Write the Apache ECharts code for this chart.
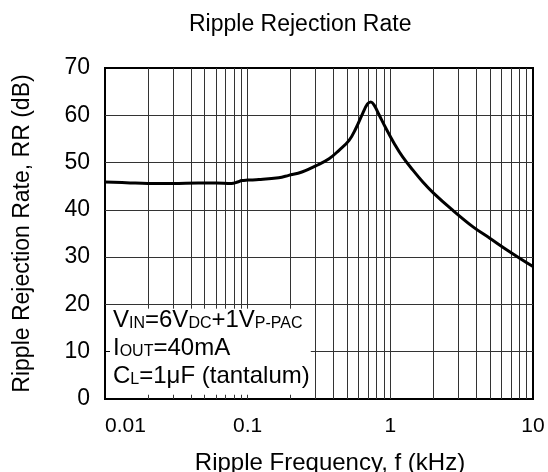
<!DOCTYPE html>
<html>
<head>
<meta charset="utf-8">
<script src="https://cdn.jsdelivr.net/npm/echarts@6/dist/echarts.min.js"></script>
<style>
  html, body { margin: 0; padding: 0; background: #fff; }
  #chart { width: 548px; height: 472px; }
</style>
</head>
<body>
<div id="chart"></div>
<script>
// ripple rejection vs frequency
const freqKHz = [0.01, 0.015, 0.02, 0.03, 0.045, 0.06, 0.077, 0.085, 0.091, 0.1, 0.12, 0.165, 0.194, 0.24, 0.3, 0.372, 0.437, 0.514, 0.573, 0.638, 0.692, 0.731, 0.772, 0.837, 0.933, 1.067, 1.22, 1.44, 1.69, 2.0, 2.67, 3.8, 4.98, 6.9, 10]
const rrDb = [45.9, 45.7, 45.6, 45.6, 45.7, 45.7, 45.6, 45.9, 46.2, 46.3, 46.4, 46.8, 47.3, 48.0, 49.3, 50.8, 52.6, 54.7, 57.2, 60.3, 62.4, 62.8, 62.1, 60.0, 57.2, 54.0, 51.2, 48.4, 45.9, 43.6, 40.2, 36.4, 34.0, 31.1, 28.0]

// log grid lines (borders at 0.01 and 10 come from the frame)
const gridFreqs = [0.02, 0.03, 0.04, 0.05, 0.06, 0.07, 0.08, 0.09, 0.1,
  0.2, 0.3, 0.4, 0.5, 0.6, 0.7, 0.8, 0.9, 1,
  2, 3, 4, 5, 6, 7, 8, 9]
const gridDb = [10, 20, 30, 40, 50, 60]

// condition box in the lower left corner (data units)
const boxFreqMax = 0.277
const boxDbMax = 20

const font = '"Liberation Sans", Arial, sans-serif'
const gridColor = '#333'

const gridLines = []
gridFreqs.forEach((f) => {
  const inBox = f < boxFreqMax
  gridLines.push([{ coord: [f, inBox ? boxDbMax - 0.9 : 0] }, { coord: [f, 70] }])
  if (inBox) gridLines.push([{ coord: [f, 0] }, { coord: [f, 0.9] }])
})
gridDb.forEach((v) => {
  gridLines.push([{ coord: [v < boxDbMax ? boxFreqMax : 0.01, v] }, { coord: [10, v] }])
})

const chart = echarts.init(document.getElementById('chart'))
chart.setOption({
  animation: false,
  title: {
    text: 'Ripple Rejection Rate',
    left: 184,
    top: 8,
    textStyle: { fontFamily: font, fontSize: 23, fontWeight: 'normal', color: '#000' }
  },
  grid: {
    left: 105, right: 15, top: 68, bottom: 73,
    outerBoundsMode: 'none',
    show: true, borderColor: '#000', borderWidth: 2
  },
  xAxis: {
    type: 'log',
    logBase: 10,
    min: 0.01,
    max: 10,
    name: 'Ripple Frequency, f (kHz)',
    nameLocation: 'middle',
    nameGap: 52,
    nameTextStyle: { fontFamily: font, fontSize: 24, color: '#000', padding: [0, 0, 0, 22] },
    axisLine: { lineStyle: { color: '#000', width: 2 } },
    axisTick: { show: false },
    splitLine: { show: false },
    axisLabel: {
      margin: 17,
      fontFamily: font,
      fontSize: 21,
      color: '#000',
      alignMinLabel: 'left',
      formatter: (v) => String(+Number(v).toPrecision(3))
    }
  },
  yAxis: {
    type: 'value',
    min: 0,
    max: 70,
    interval: 10,
    name: 'Ripple Rejection Rate, RR (dB)',
    nameLocation: 'middle',
    nameGap: 71,
    nameTextStyle: { fontFamily: font, fontSize: 23, color: '#000' },
    axisLine: { lineStyle: { color: '#000', width: 2 } },
    axisTick: { inside: true, length: 5, lineStyle: { color: '#000' } },
    splitLine: { show: false },
    axisLabel: { margin: 15, fontFamily: font, fontSize: 23, color: '#000' }
  },
  graphic: [
    {
      type: 'text',
      left: 113,
      top: 308,
      z: 10,
      style: {
        text: [
          '{m|V}{s|IN}{m|=6V}{s|DC}{m|+1V}{s|P-PAC}',
          '{m|I}{s|OUT}{m|=40mA}',
          '{m|C}{s|L}{m|=1μF (tantalum)}'
        ].join('\n'),
        fill: '#000',
        rich: {
          m: { fontFamily: font, fontSize: 24, lineHeight: 28, fill: '#000' },
          s: { fontFamily: font, fontSize: 16, lineHeight: 17, verticalAlign: 'bottom', padding: [0, 0, 2, 0], fill: '#000' }
        }
      }
    }
  ],
  series: [
    {
      name: 'grid',
      type: 'line',
      data: [],
      z: 1,
      silent: true,
      markLine: {
        silent: true,
        z: 1,
        symbol: ['none', 'none'],
        label: { show: false },
        emphasis: { disabled: true },
        lineStyle: { color: gridColor, width: 1, type: 'solid' },
        data: gridLines
      }
    },
    {
      name: 'RR',
      type: 'line',
      z: 5,
      smooth: 0.4,
      showSymbol: false,
      lineStyle: { color: '#000', width: 3 },
      data: freqKHz.map((f, i) => [f, rrDb[i]])
    }
  ]
})
</script>
</body>
</html>
